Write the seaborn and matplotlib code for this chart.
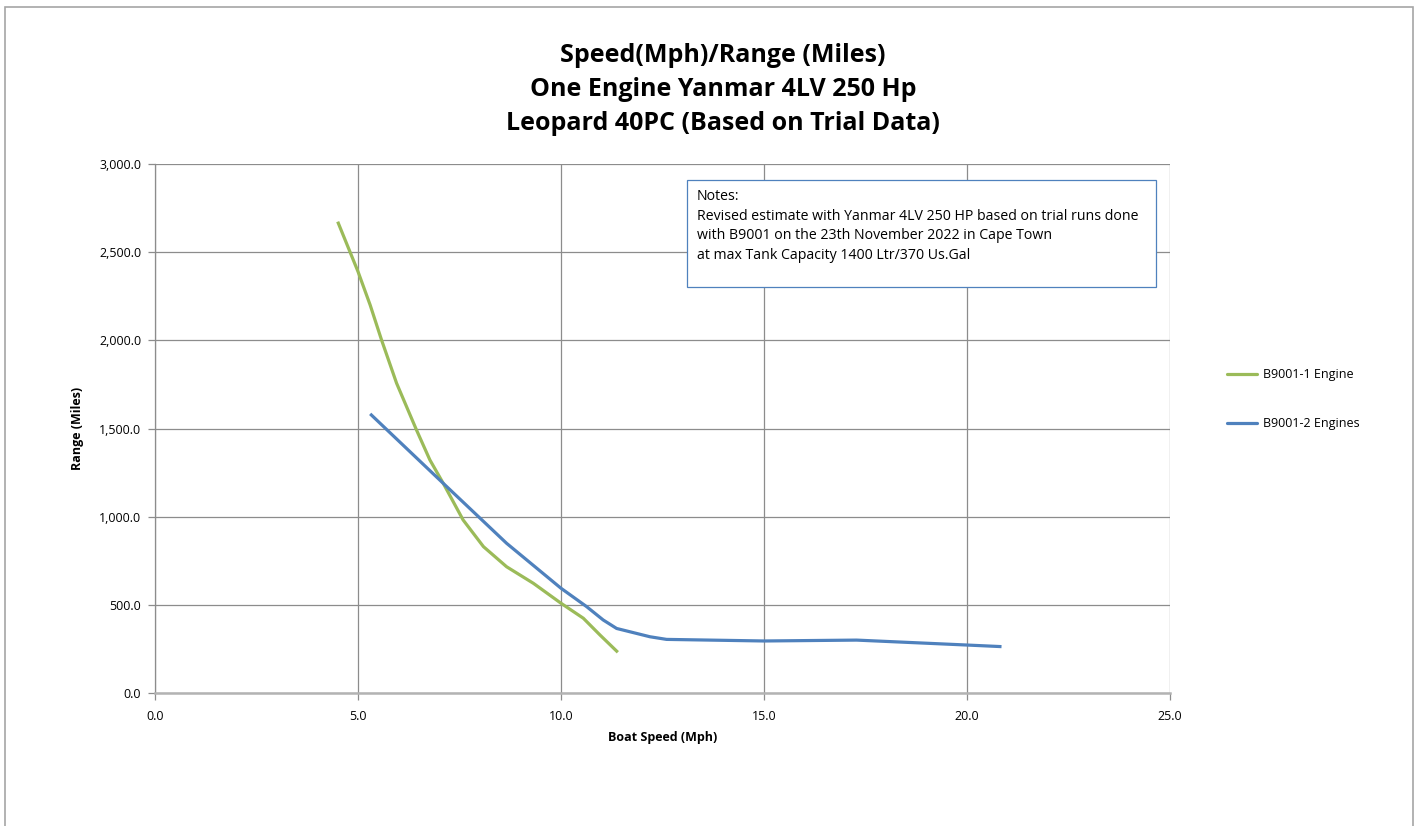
import matplotlib.pyplot as plt
import matplotlib.patches as mpatches
from matplotlib.ticker import FuncFormatter, MultipleLocator
import pandas as pd
import seaborn as sns

# values
one_engine_speed = [4.5, 5.0, 5.3, 5.58, 5.95, 6.44, 6.77, 7.1, 7.59, 8.09, 8.66, 9.32,
                    10.0, 10.55, 10.96, 11.4]
one_engine_range = [2673, 2390, 2200, 2002, 1757, 1492, 1322, 1189, 981, 830, 716, 622,
                    509, 424, 329, 231]
two_engine_speed = [5.3, 7.1, 8.66, 10.0, 10.63, 11.04, 11.37, 12.19, 12.6, 15.0, 17.28,
                    20.0, 20.85]
two_engine_range = [1583, 1189, 849, 594, 490, 414, 366, 319, 304, 295, 300, 272, 263]
series_names = ['B9001-1 Engine', 'B9001-2 Engines']
series_colors = ['#9BBB59', '#4F81BD']

title_lines = ['Speed(Mph)/Range (Miles)', 'One Engine Yanmar 4LV 250 Hp',
               'Leopard 40PC (Based on Trial Data)']
notes_text = ('Notes:\n'
              'Revised estimate with Yanmar 4LV 250 HP based on trial runs done\n'
              'with B9001 on the 23th November 2022 in Cape Town\n'
              'at max Tank Capacity 1400 Ltr/370 Us.Gal')

df = pd.concat([
    pd.DataFrame({'speed': one_engine_speed, 'range': one_engine_range, 'series': series_names[0]}),
    pd.DataFrame({'speed': two_engine_speed, 'range': two_engine_range, 'series': series_names[1]}),
])

sns.set_style('white')
plt.rcParams['font.family'] = ['Open Sans', 'DejaVu Sans']
plt.rcParams['text.color'] = 'black'
plt.rcParams['axes.labelcolor'] = 'black'

fig = plt.figure(figsize=(14.21, 8.26), dpi=100)
ax = fig.add_axes([155 / 1421, 1 - 693 / 826, 1015 / 1421, 529 / 826])

sns.lineplot(data=df, x='speed', y='range', hue='series', sort=False,
             palette=dict(zip(series_names, series_colors)), linewidth=2.3,
             ax=ax, legend=False, solid_capstyle='butt', solid_joinstyle='round')

ax.set_xlim(0, 25)
ax.set_ylim(0, 3000)
ax.xaxis.set_major_locator(MultipleLocator(5))
ax.yaxis.set_major_locator(MultipleLocator(500))
ax.xaxis.set_major_formatter(FuncFormatter(lambda v, p: f'{v:,.1f}'))
ax.yaxis.set_major_formatter(FuncFormatter(lambda v, p: f'{v:,.1f}'))
ax.grid(True, color='#8c8c8c', linewidth=0.9)
ax.set_axisbelow(True)
for side in ['top', 'right']:
    ax.spines[side].set_visible(False)
ax.spines['left'].set_color('#8c8c8c')
ax.spines['left'].set_linewidth(0.9)
ax.spines['bottom'].set_color('#b3b3b3')
ax.spines['bottom'].set_linewidth(1.8)
ax.tick_params(axis='both', which='major', direction='out', length=5, width=0.9,
               color='#8c8c8c', labelcolor='black', labelsize=9, pad=5,
               bottom=True, left=True)
ax.tick_params(axis='x', pad=7)

ax.set_xlabel('Boat Speed (Mph)', fontsize=9, fontweight='bold', labelpad=6)
ax.set_ylabel('Range (Miles)', fontsize=9, fontweight='bold', labelpad=11)

for i, line in enumerate(title_lines):
    fig.text(723 / 1421, 1 - (55 + 34 * i) / 826, line, ha='center', va='center',
             fontsize=18, fontweight='bold')

# notes box
box = mpatches.Rectangle((687 / 1421, 1 - 287 / 826), 469 / 1421, 107 / 826,
                         transform=fig.transFigure, facecolor='white',
                         edgecolor='#4F81BD', linewidth=0.9, zorder=5)
fig.patches.append(box)
fig.text(697 / 1421, 1 - 189 / 826, notes_text, ha='left', va='top', fontsize=10.2,
         linespacing=1.42, zorder=6)

# legend
handles = [plt.Line2D([], [], color=c, linewidth=2.3) for c in series_colors]
fig.legend(handles, series_names, loc='center left', bbox_to_anchor=(1216 / 1421, 1 - 399 / 826),
           frameon=False, fontsize=9, handlelength=2.4, handletextpad=0.45, labelspacing=2.9)

# outer chart border
border = mpatches.Rectangle((5 / 1421, -0.05), 1408 / 1421, 1.05 - 7 / 826,
                            transform=fig.transFigure, fill=False,
                            edgecolor='#a6a6a6', linewidth=1.2)
fig.patches.append(border)

fig.savefig('out.png', dpi=100)
